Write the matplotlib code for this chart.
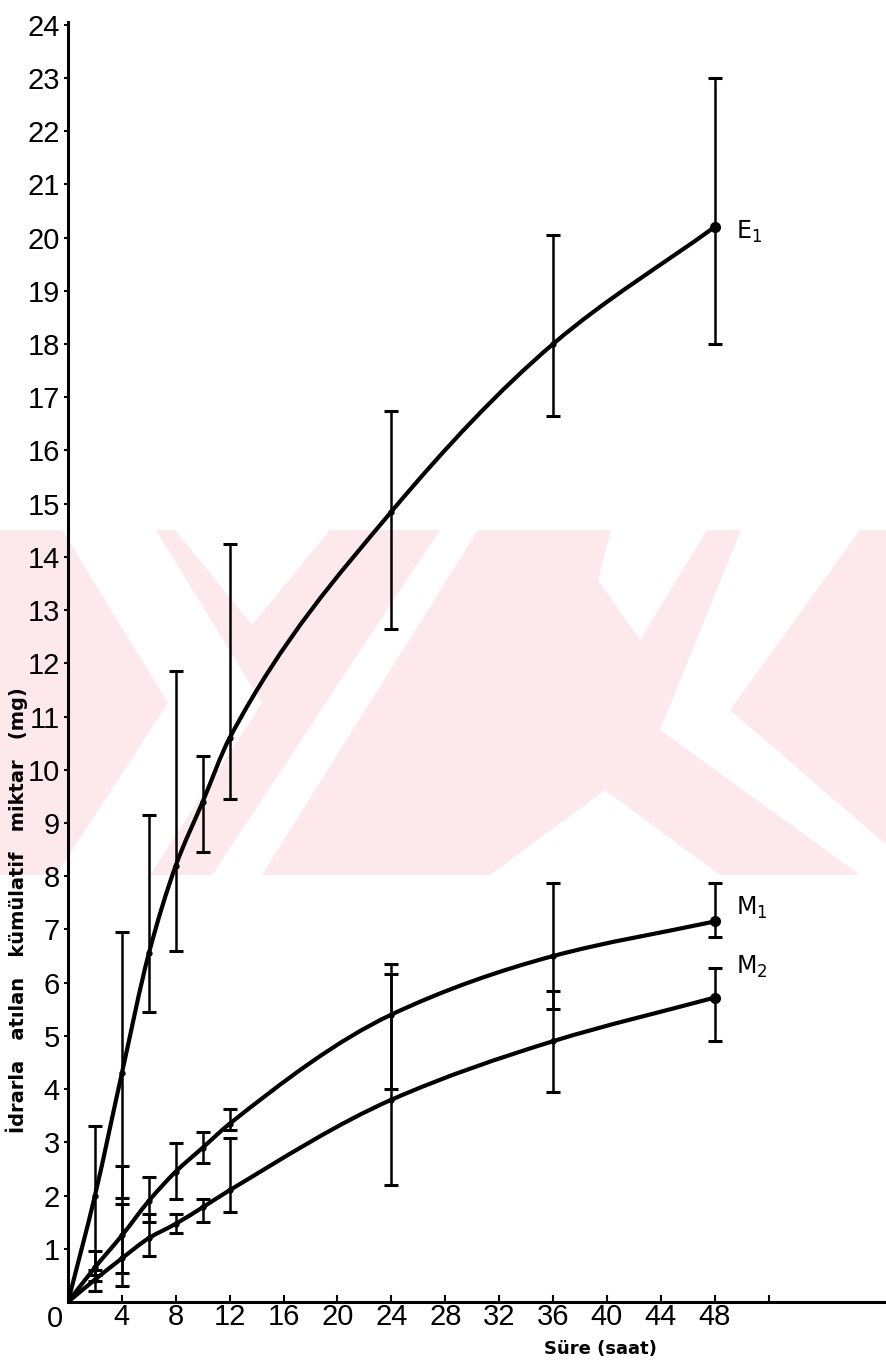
import numpy as np
import matplotlib.pyplot as plt
from matplotlib.path import Path
from matplotlib.patches import PathPatch, Polygon

# zaman (saat) ve idrarla atilan kumulatif miktarlar (mg)
saat = [0, 2, 4, 6, 8, 10, 12, 24, 36, 48]

e1 = [0, 2.0, 4.3, 6.55, 8.2, 9.4, 10.6, 14.85, 18.0, 20.2]
e1_alt = [0, 0.4, 1.95, 5.45, 6.6, 8.45, 9.45, 12.65, 16.65, 18.0]
e1_ust = [0, 3.3, 6.95, 9.15, 11.85, 10.25, 14.25, 16.75, 20.05, 23.0]

m1 = [0, 0.65, 1.25, 1.9, 2.45, 2.9, 3.35, 5.4, 6.5, 7.15]
m1_alt = [0, 0.5, 0.55, 1.5, 1.93, 2.62, 3.24, 4.0, 5.5, 6.85]
m1_ust = [0, 0.95, 2.55, 2.34, 2.98, 3.19, 3.62, 6.36, 7.87, 7.88]

m2 = [0, 0.42, 0.82, 1.2, 1.47, 1.78, 2.1, 3.8, 4.9, 5.72]
m2_alt = [0, 0.2, 0.3, 0.86, 1.3, 1.5, 1.69, 2.2, 3.95, 4.9]
m2_ust = [0, 0.6, 1.85, 1.65, 1.65, 1.93, 3.08, 6.17, 5.85, 6.28]

x_ticks = [4, 8, 12, 16, 20, 24, 28, 32, 36, 40, 44, 48, 52]
x_labels = ['4', '8', '12', '16', '20', '24', '28', '32', '36', '40', '44', '48', '']
y_ticks = list(range(1, 25))

W, H = 887, 1365
fig = plt.figure(figsize=(W / 100, H / 100), dpi=100)
fig.patch.set_facecolor('white')

pembe = '#fde8ec'


def px(pts):
    return [(x / W, 1 - y / H) for x, y in pts]


# arka plandaki soluk filigran
fig.patches.append(Polygon(px([(0, 530), (887, 530), (887, 875), (0, 875)]),
                           closed=True, transform=fig.transFigure,
                           facecolor=pembe, edgecolor='none', zorder=0))
beyaz = [
    [(62, 530), (156, 530), (262, 703), (150, 875), (56, 875), (168, 703)],
    [(175, 530), (330, 530), (252, 625)],
    [(440, 530), (478, 530), (262, 875), (212, 875)],
    [(605, 790), (720, 875), (490, 875)],
    [(611, 530), (707, 530), (640, 640), (598, 580)],
    [(741, 530), (860, 530), (730, 710), (887, 845), (887, 875), (860, 875), (660, 730)],
]
for p in beyaz:
    fig.patches.append(Polygon(px(p), closed=True, transform=fig.transFigure,
                               facecolor='white', edgecolor='none', zorder=0))

ax = fig.add_axes([68 / W, 1 - 1302 / H, 1 - 68 / W, (1302 - 22) / H])
ax.set_zorder(1)
ax.patch.set_alpha(0)
ax.set_xlim(0, (W - 67) / 13.49)
ax.set_ylim(0, 24.05)

for s in ['top', 'right']:
    ax.spines[s].set_visible(False)
for s in ['left', 'bottom']:
    ax.spines[s].set_linewidth(2.2)

yazi = ['Liberation Sans', 'DejaVu Sans']

ax.set_xticks(x_ticks)
ax.set_xticklabels(x_labels, family=yazi, fontsize=21)
ax.set_yticks(y_ticks)
ax.set_yticklabels([str(v) for v in y_ticks], family=yazi, fontsize=21)
ax.tick_params(axis='x', direction='in', length=5, width=1.5, pad=1)
ax.tick_params(axis='y', direction='out', length=3, width=1.5, pad=3)
ax.text(-0.4, -0.05, '0', ha='right', va='top', family=yazi, fontsize=21,
        transform=ax.transData, clip_on=False)


def egri(xs, ys):
    # noktalardan gecen yumusak egri (PCHIP turevleri, Hermite -> Bezier)
    xs = np.asarray(xs, float)
    ys = np.asarray(ys, float)
    n = len(xs)
    h = np.diff(xs)
    d = np.diff(ys) / h
    m = np.zeros(n)
    m[0] = d[0]
    m[-1] = d[-1]
    for i in range(1, n - 1):
        w1 = 2 * h[i] + h[i - 1]
        w2 = h[i] + 2 * h[i - 1]
        m[i] = (w1 + w2) / (w1 / d[i - 1] + w2 / d[i])
    verts = [(xs[0], ys[0])]
    codes = [Path.MOVETO]
    for i in range(n - 1):
        t = h[i] / 3
        verts += [(xs[i] + t, ys[i] + m[i] * t),
                  (xs[i + 1] - t, ys[i + 1] - m[i + 1] * t),
                  (xs[i + 1], ys[i + 1])]
        codes += [Path.CURVE4] * 3
    return Path(verts, codes)


for yv, alt, ust in [(e1, e1_alt, e1_ust), (m1, m1_alt, m1_ust), (m2, m2_alt, m2_ust)]:
    ax.add_patch(PathPatch(egri(saat, yv), facecolor='none', edgecolor='black',
                           lw=3.0, capstyle='round', zorder=3))
    yerr = [np.array(yv[1:]) - np.array(alt[1:]), np.array(ust[1:]) - np.array(yv[1:])]
    ax.errorbar(saat[1:], yv[1:], yerr=yerr, fmt='o', color='black', ms=3.5,
                elinewidth=1.8, capsize=5, capthick=2.2, zorder=4)
    ax.plot(saat[-1], yv[-1], 'o', color='black', ms=7, zorder=5)

ax.text(49.6, 20.1, 'E$_1$', fontsize=17, va='center', ha='left')
ax.text(49.6, 7.4, 'M$_1$', fontsize=17, va='center', ha='left')
ax.text(49.6, 6.3, 'M$_2$', fontsize=17, va='center', ha='left')

fig.text(600 / W, 1 - 1349 / H, 'Süre (saat)', ha='center', va='center',
         fontsize=13, fontweight='bold')
fig.text(17 / W, 1 - 910 / H, 'İdrarla   atılan   kümülatif   miktar   (mg)',
         rotation=90, ha='center', va='center', fontsize=14, fontweight='bold')

fig.savefig('out.png', dpi=100)
